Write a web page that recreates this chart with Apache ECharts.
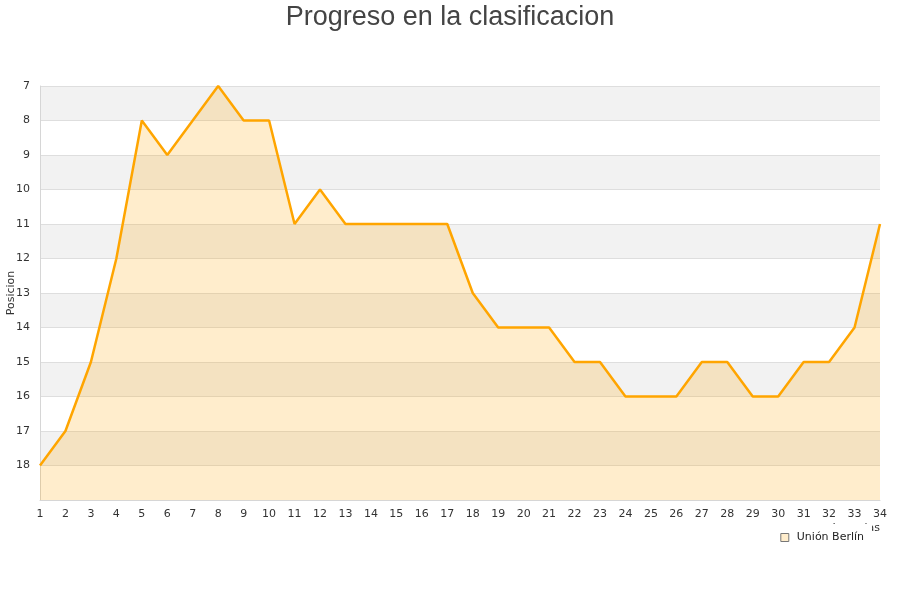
<!DOCTYPE html>
<html>
<head>
<meta charset="utf-8">
<script src="https://cdn.jsdelivr.net/npm/echarts@6/dist/echarts.min.js"></script>
<style>
  html, body { margin: 0; padding: 0; background: #fff; }
  #chart { width: 900px; height: 600px; }
</style>
</head>
<body>
<div id="chart"></div>
<script>
// jornadas y posiciones
const jornadas = [];
for (let i = 1; i <= 34; i++) jornadas.push(String(i));
const posiciones = [18, 17, 15, 12, 8, 9, 8, 7, 8, 8, 11, 10, 11, 11, 11, 11, 11,
  13, 14, 14, 14, 15, 15, 16, 16, 16, 15, 15, 16, 16, 15, 15, 14, 11];
const equipo = "Unión Berlín";

const fuente = "DejaVu Sans";
const chart = echarts.init(document.getElementById("chart"));
const option = {
  animation: false,
  textStyle: { fontFamily: fuente },
  title: {
    text: "Progreso en la clasificacion",
    left: "center",
    top: -1,
    textStyle: { fontFamily: "Liberation Sans", fontSize: 27, fontWeight: "normal", color: "#444" }
  },
  grid: { left: 40, right: 20, top: 86, bottom: 100, outerBoundsMode: "none", containLabel: false },
  legend: {
    data: [equipo],
    right: 28,
    top: 524,
    backgroundColor: "#fff",
    padding: [8, 8, 8, 8],
    itemGap: 8,
    icon: "rect",
    itemWidth: 8,
    itemHeight: 8,
    itemStyle: { color: "#ffedcc", borderColor: "#777", borderWidth: 1 },
    textStyle: { fontFamily: fuente, fontSize: 11, color: "#222", padding: [0, 0, 0, 3] }
  },
  xAxis: {
    type: "category",
    data: jornadas,
    boundaryGap: false,
    name: "Jornadas",
    nameLocation: "end",
    nameGap: 0,
    nameMoveOverlap: false,
    nameTextStyle: { align: "right", verticalAlign: "top", padding: [23, 0, 0, 0], fontFamily: fuente, fontSize: 11, color: "#333" },
    axisLine: { lineStyle: { color: "#d6d6d6" } },
    axisTick: { show: false },
    axisLabel: { color: "#333", fontFamily: fuente, fontSize: 11, margin: 9 },
    splitLine: { show: false }
  },
  yAxis: {
    type: "value",
    inverse: true,
    min: 7,
    max: 19,
    interval: 1,
    name: "Posicion",
    nameLocation: "middle",
    nameGap: 23,
    nameMoveOverlap: false,
    nameTextStyle: { fontFamily: fuente, fontSize: 11, color: "#333" },
    axisLine: { show: true, lineStyle: { color: "#d6d6d6" } },
    axisTick: { show: false },
    axisLabel: {
      color: "#333",
      fontFamily: fuente,
      fontSize: 11,
      margin: 10,
      formatter: v => (v === 19 ? "" : String(v))
    },
    splitLine: { lineStyle: { color: "#dedede" } },
    splitArea: { show: true, areaStyle: { color: ["#f2f2f2", "#ffffff"] } }
  },
  series: [
    {
      name: equipo,
      type: "line",
      data: posiciones,
      showSymbol: false,
      lineStyle: { color: "#ffa500", width: 2.5 },
      itemStyle: { color: "#ffedcc" },
      areaStyle: { origin: "end", color: "#ffa500", opacity: 0.2 }
    }
  ]
};
chart.setOption(option);
</script>
</body>
</html>
